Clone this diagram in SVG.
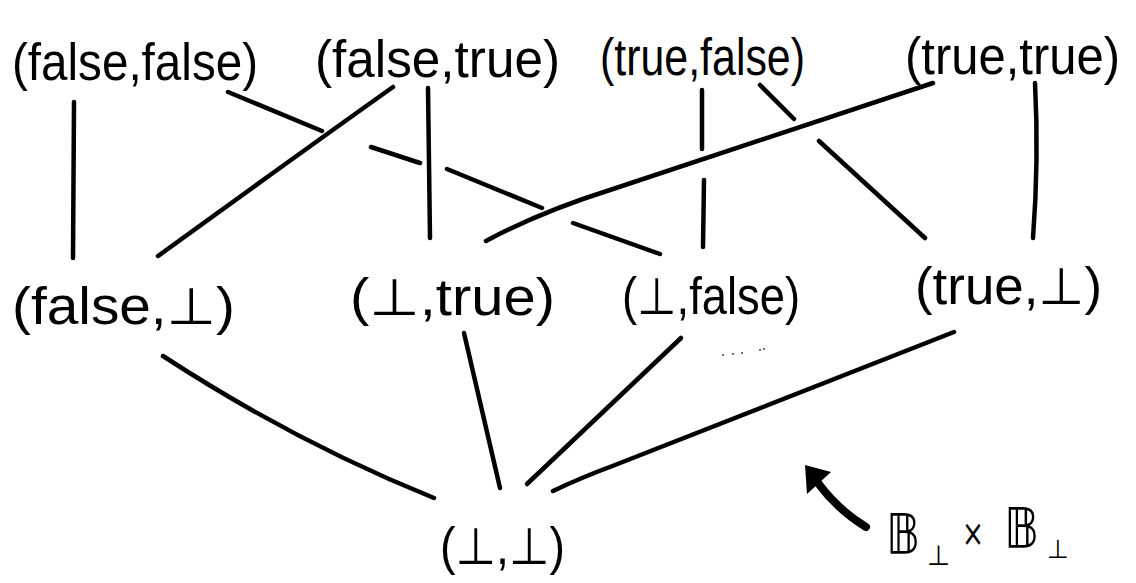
<svg xmlns="http://www.w3.org/2000/svg" width="1136" height="583" viewBox="0 0 1136 583">
<style>
.bg{fill:#fff}
.lbl{font-family:"Liberation Sans","DejaVu Sans",sans-serif;font-size:51px;fill:#000}
.edge{fill:none;stroke:#000;stroke-width:4.5;stroke-linecap:round;stroke-linejoin:round}
.math{font-family:"DejaVu Sans","Liberation Sans",sans-serif;fill:#000}
</style>
<rect class="bg" x="0" y="0" width="1136" height="583"/>
<g id="n-false-false"><text class="lbl" x="12" y="80" textLength="246" lengthAdjust="spacingAndGlyphs">(false,false)</text></g>
<g id="n-false-true"><text class="lbl" x="315" y="77" textLength="245" lengthAdjust="spacingAndGlyphs">(false,true)</text></g>
<g id="n-true-false"><text class="lbl" x="600" y="75" textLength="205" lengthAdjust="spacingAndGlyphs">(true,false)</text></g>
<g id="n-true-true"><text class="lbl" x="905" y="74" textLength="215" lengthAdjust="spacingAndGlyphs">(true,true)</text></g>
<g id="n-false-bot"><text class="lbl" x="12" y="324" textLength="223" lengthAdjust="spacingAndGlyphs">(false,⊥)</text></g>
<g id="n-bot-true"><text class="lbl" x="350" y="315" textLength="205" lengthAdjust="spacingAndGlyphs">(⊥,true)</text></g>
<g id="n-bot-false"><text class="lbl" x="622" y="314" textLength="178" lengthAdjust="spacingAndGlyphs">(⊥,false)</text></g>
<g id="n-true-bot"><text class="lbl" x="915" y="304" textLength="187" lengthAdjust="spacingAndGlyphs">(true,⊥)</text></g>
<g id="n-bot-bot"><text class="lbl" x="440" y="564" textLength="125" lengthAdjust="spacingAndGlyphs">(⊥,⊥)</text></g>
<g id="connectors">
<path class="edge" d="M74 102 L73 258"/>
<path class="edge" d="M228 92 L322 131 M371 147 L420 163 M447 169 L542 208 M573 223 L660 254"/>
<path class="edge" d="M393 87 Q 296 156 158 256"/>
<path class="edge" d="M428 88 L430 238"/>
<path class="edge" d="M702 90 L702 149 M704 180 L703 247"/>
<path class="edge" d="M760 85 L794 119 M819 141 L925 238"/>
<path class="edge" d="M933 83 L610 190 Q 540 212 486 241"/>
<path class="edge" d="M1035 83 Q 1039 160 1033 238"/>
<path class="edge" d="M163 356 Q 295 442 434 498"/>
<path class="edge" d="M464 333 L500 488"/>
<path class="edge" d="M681 338 L527 484"/>
<path class="edge" d="M954 332 L615 465 Q 580 478 553 491"/>
</g>
<g id="marks" fill="#444">
<circle cx="723" cy="355" r="1"/><circle cx="733" cy="354" r="1"/><circle cx="742" cy="353" r="1"/><circle cx="760" cy="350" r="1"/><circle cx="764" cy="349" r="1"/>
</g>
<g id="pointer">
<path d="M866 527 Q 838 510 818 483" fill="none" stroke="#000" stroke-width="8" stroke-linecap="round"/>
<polygon points="805,465 831,472 807,494" fill="#000"/>
</g>
<g id="label-product">
<text class="math" font-size="56"><tspan x="886" y="553" textLength="34" lengthAdjust="spacingAndGlyphs">𝔹</tspan><tspan x="927" y="565" font-size="28" textLength="23" lengthAdjust="spacingAndGlyphs">⊥</tspan><tspan x="962" y="546" font-size="38" textLength="22" lengthAdjust="spacingAndGlyphs">×</tspan><tspan x="1004" y="547" textLength="35" lengthAdjust="spacingAndGlyphs">𝔹</tspan><tspan x="1047" y="558" font-size="26" textLength="22" lengthAdjust="spacingAndGlyphs">⊥</tspan></text>
</g>
</svg>
